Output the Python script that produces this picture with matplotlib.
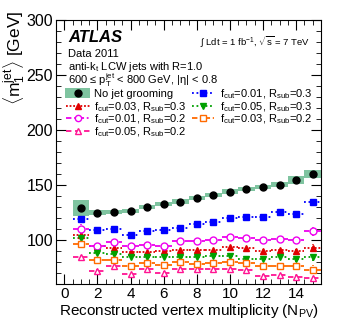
import matplotlib
matplotlib.use("Agg")
import matplotlib.pyplot as plt
import numpy as np
from matplotlib.patches import Rectangle
from matplotlib.ticker import MultipleLocator
from matplotlib.lines import Line2D

plt.rcParams['font.family'] = ['Liberation Sans', 'DejaVu Sans']
plt.rcParams['mathtext.fontset'] = 'custom'
plt.rcParams['mathtext.rm'] = 'Liberation Sans'
plt.rcParams['mathtext.it'] = 'Liberation Sans:italic'

npv = [1, 2, 3, 4, 5, 6, 7, 8, 9, 10, 11, 12, 13, 14, 15]

m_nogroom = [129, 124.8, 125.7, 126.6, 130, 132.7, 135, 138.2, 141, 144, 146.4, 148.4, 150.3, 154.8, 160]
m_nogroom_err = [7, 2.5, 2, 2, 2, 2, 2, 2, 2, 2, 2, 2, 2.5, 3.5, 4]

m_f003_r03 = [104.5, 94.5, 92.4, 89.4, 89.4, 90, 90.6, 90.6, 90.6, 93.6, 92.4, 90, 90.6, 89.7, 92.7]
m_f001_r03 = [119.5, 109, 110.3, 105, 107.8, 108.7, 111, 114.5, 116.4, 119.6, 121.2, 121.2, 125.7, 123.6, 134.8]
m_f001_r02 = [110.3, 94.8, 98.2, 94.8, 95.7, 94.8, 99, 99.4, 100, 103, 101.5, 99.6, 101.2, 99.6, 107.8]
m_f005_r03 = [101.7, 88.5, 87.5, 84.2, 85, 84.5, 84.8, 84.5, 85.4, 85.4, 83, 82.7, 85, 82.7, 84.8]
m_f005_r02 = [84.8, 72, 76, 69, 73.3, 70.3, 73.9, 73.9, 73.9, 73.6, 72.7, 67.5, 68, 66.4, 65.5]
m_f003_r02 = [96.4, 82, 82, 76.6, 79.4, 77, 80.3, 78.5, 78.7, 80, 78.7, 76.3, 76.6, 76, 73]

err_small = [4, 1.5, 1.2, 1.2, 1.2, 1.2, 1.2, 1.2, 1.2, 1.2, 1.2, 1.5, 1.5, 2.5, 4]

labels = ["No jet grooming",
          r"f$_{\rm cut}$=0.03, R$_{\rm sub}$=0.3",
          r"f$_{\rm cut}$=0.01, R$_{\rm sub}$=0.2",
          r"f$_{\rm cut}$=0.05, R$_{\rm sub}$=0.2",
          r"f$_{\rm cut}$=0.01, R$_{\rm sub}$=0.3",
          r"f$_{\rm cut}$=0.05, R$_{\rm sub}$=0.3",
          r"f$_{\rm cut}$=0.03, R$_{\rm sub}$=0.2"]

W, H = 349, 335
fig = plt.figure(figsize=(W / 100, H / 100), dpi=100)
ax = fig.add_axes([56 / W, 1 - 284 / H, (321 - 56) / W, (284 - 20) / H])


def fx(px):
    return px / W


def fy(py):
    return 1 - py / H


x = np.array(npv, dtype=float)

band_color = '#7fc4a0'
for xi, yi, ei in zip(x, m_nogroom, m_nogroom_err):
    ax.add_patch(Rectangle((xi - 0.5, yi - ei), 1.0, 2 * ei, facecolor=band_color,
                           edgecolor='none', zorder=2))
ax.plot(x, m_nogroom, 'o', color='black', ms=5, zorder=5)

series = [
    (m_f003_r03, '#e00000', '^', True, (0, (1, 1))),
    (m_f001_r02, '#ee00ee', 'o', False, (0, (3, 1.5, 1, 1.5))),
    (m_f005_r02, '#ff1493', '^', False, (0, (3, 2))),
    (m_f001_r03, '#0000ff', 's', True, (0, (1, 1.5))),
    (m_f005_r03, '#00a000', 'v', True, (0, (1, 1.5))),
    (m_f003_r02, '#ff6a00', 's', False, (0, (3, 1.5, 1, 1.5))),
]

for vals, col, mk, filled, ls in series:
    eb = ax.errorbar(x, vals, xerr=0.5, yerr=err_small, fmt=mk, color=col,
                     mfc=col if filled else 'white', mec=col, ms=4.5 if filled else 5,
                     mew=1.0, elinewidth=1.3, capsize=0, zorder=4)
    for lc in eb[2]:
        lc.set_linestyle(ls)

ax.set_xlim(-0.5, 15.5)
ax.set_ylim(60, 300)
ax.xaxis.set_minor_locator(MultipleLocator(0.5))
ax.yaxis.set_minor_locator(MultipleLocator(10))
ax.tick_params(which='both', direction='in', top=True, right=True)
ax.tick_params(which='major', length=7)
ax.tick_params(which='minor', length=3.5)
ax.set_yticks([100, 150, 200, 250, 300])
ax.set_yticklabels(['100', '150', '200', '250', '300'], fontsize=11.5)
ax.set_xticks([0, 2, 4, 6, 8, 10, 12, 14])
ax.set_xticklabels(['0', '2', '4', '6', '8', '10', '12', '14'], fontsize=11)
ax.tick_params(axis='x', pad=2)
ax.tick_params(axis='y', pad=2)

ax.set_xlabel(r"Reconstructed vertex multiplicity (N$_{\rm PV}$)", fontsize=11, labelpad=1)
ax.set_ylabel(r"$\langle$m$_1^{\rm jet}\rangle$ [GeV]", fontsize=12.5, loc='top')
ax.yaxis.set_label_coords(-0.108, 1.035)

# header texts
fig.text(fx(68), fy(42), "ATLAS", fontsize=12, fontweight='bold', fontstyle='italic', va='baseline')
fig.text(fx(68), fy(57), "Data 2011", fontsize=8, va='baseline')
fig.text(fx(68), fy(70), r"anti-k$_{\rm t}$ LCW jets with R=1.0", fontsize=8, va='baseline')
fig.text(fx(68), fy(84), r"600 ≤ p$_{\rm T}^{\rm jet}$ < 800 GeV, |η| < 0.8", fontsize=8, va='baseline')
fig.text(fx(310), fy(46), r"$\int$ Ldt = 1 fb$^{-1}$, $\sqrt{\rm s}$ = 7 TeV", fontsize=6.8,
         va='baseline', ha='right')

# manual legend
fig.add_artist(Rectangle((fx(65), fy(98)), fx(90) - fx(65), fy(88) - fy(98),
                         transform=fig.transFigure, facecolor=band_color, edgecolor='none'))
fig.add_artist(Line2D([fx(78)], [fy(93)], marker='o', color='black', ms=5, ls='none',
                      transform=fig.transFigure))
fig.text(fx(94), fy(97), labels[0], fontsize=8, va='baseline')

col1_rows = [106, 118, 131]
col2_rows = [93, 106, 118]
positions = [(66, 90, 78, 94, r) for r in col1_rows] + [(192, 214, 203, 220, r) for r in col2_rows]
for (vals, col, mk, filled, ls), lab, (x0, x1, xm, xt, yr) in zip(series, labels[1:], positions):
    fig.add_artist(Line2D([fx(x0), fx(x1)], [fy(yr), fy(yr)], color=col, ls=ls, lw=1.3,
                          transform=fig.transFigure))
    fig.add_artist(Line2D([fx(xm)], [fy(yr)], marker=mk, ls='none', color=col,
                          mfc=col if filled else 'white', mec=col, ms=4.5,
                          transform=fig.transFigure))
    fig.text(fx(xt), fy(yr + 4), lab, fontsize=8, va='baseline')

fig.savefig("out.png", dpi=100)
